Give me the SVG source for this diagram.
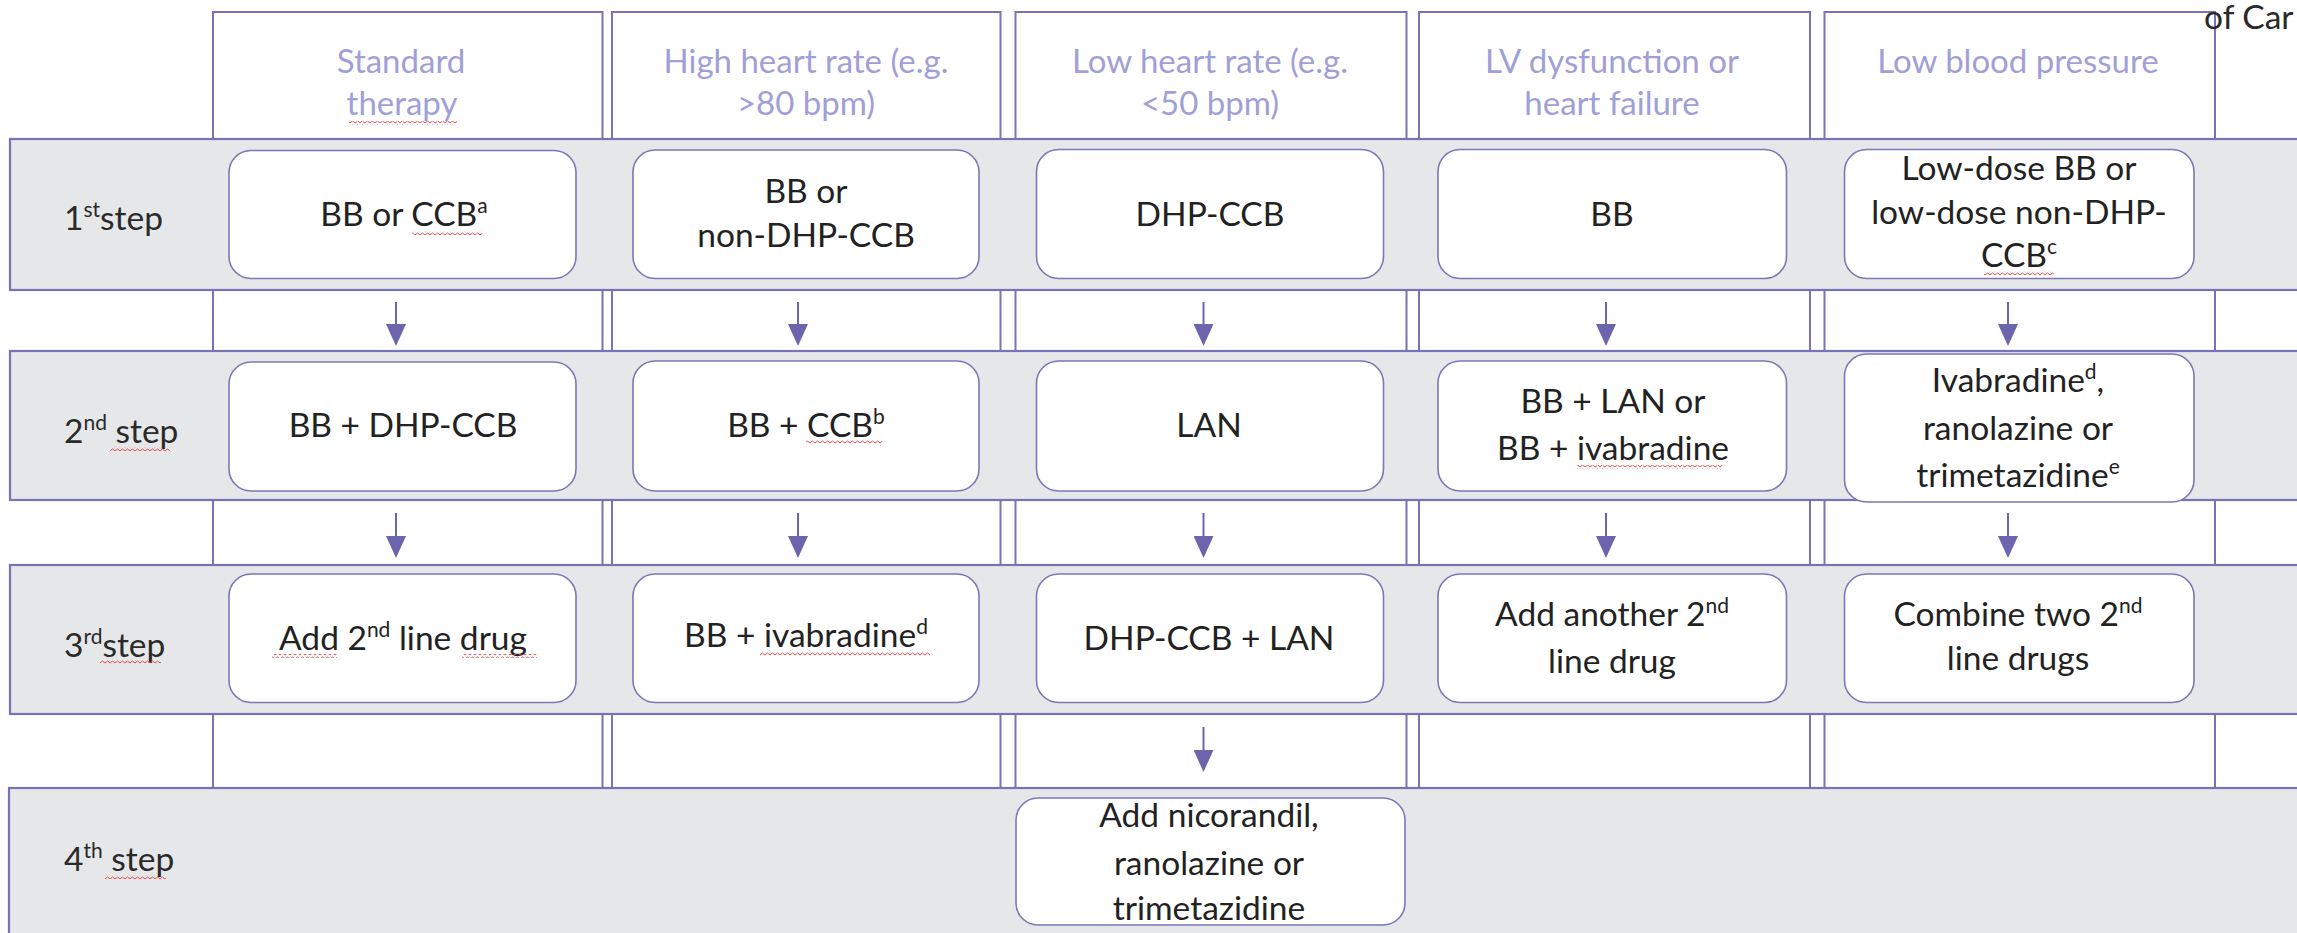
<svg xmlns="http://www.w3.org/2000/svg" width="2297" height="933" viewBox="0 0 2297 933">
<defs>
<style>
.col{fill:#fff;stroke:#7873b6;stroke-width:2}
.band{fill:#e6e7e9;stroke:#7873b6;stroke-width:2.2}
.box{fill:#fff;stroke:#7b77b8;stroke-width:1.6}
.t{font-family:Lato,'Liberation Sans',sans-serif;font-size:33.5px;fill:#222;text-anchor:middle}
.h{font-family:Lato,'Liberation Sans',sans-serif;font-weight:400;font-size:33px;fill:#a19fd8;text-anchor:middle}
.s{font-family:Lato,'Liberation Sans',sans-serif;font-size:33.5px;fill:#2a2a2a;text-anchor:start}
.sup{font-size:21px}
.arr{stroke:#6b65ad;stroke-width:2;fill:none;marker-end:url(#ah)}
.sq{fill:url(#wave)}
</style>
<marker id="ah" viewBox="0 0 22 20" markerUnits="userSpaceOnUse" markerWidth="22" markerHeight="20" refX="14" refY="10" orient="auto">
<path d="M0 0 L22 10 L0 20 z" fill="#6b65ad"/>
</marker>
<pattern id="wave" width="5" height="4" patternUnits="userSpaceOnUse">
<path d="M0 3 L2.5 1 L5 3" fill="none" stroke="#e23b3b" stroke-width="0.9"/>
</pattern>
</defs>

<g id="columns">
<rect class="col" x="213" y="12" width="389.5" height="776"/>
<rect class="col" x="612" y="12" width="388.5" height="776"/>
<rect class="col" x="1015.5" y="12" width="391" height="776"/>
<rect class="col" x="1419" y="12" width="391" height="776"/>
<rect class="col" x="1824.5" y="12" width="390.5" height="776"/>
</g>

<g id="headers">
<g id="h1"><text class="h" x="401" y="73">Standard</text><text class="h" x="402" y="115">therapy</text></g>
<g id="h2"><text class="h" x="806" y="73">High heart rate (e.g.</text><text class="h" x="806" y="115">&gt;80 bpm)</text></g>
<g id="h3"><text class="h" x="1210" y="73">Low heart rate (e.g.</text><text class="h" x="1210" y="115">&lt;50 bpm)</text></g>
<g id="h4"><text class="h" x="1612" y="73">LV dysfunction or</text><text class="h" x="1612" y="115">heart failure</text></g>
<g id="h5"><text class="h" x="2018" y="73">Low blood pressure</text></g>
</g>

<text class="s" x="2204" y="29">of Car</text>

<g id="bands">
<rect class="band" x="10" y="139" width="2300" height="151"/>
<rect class="band" x="10" y="351" width="2300" height="149"/>
<rect class="band" x="10" y="565" width="2300" height="149"/>
<rect class="band" x="9" y="788" width="2300" height="160"/>
</g>

<g id="step-labels">
<text class="s" x="64" y="230">1<tspan class="sup" dy="-13">st</tspan><tspan dy="13">step</tspan></text>
<text class="s" x="64" y="443">2<tspan class="sup" dy="-13">nd</tspan><tspan dy="13"> step</tspan></text>
<text class="s" x="64" y="657">3<tspan class="sup" dy="-13">rd</tspan><tspan dy="13">step</tspan></text>
<text class="s" x="64" y="871">4<tspan class="sup" dy="-13">th</tspan><tspan dy="13"> step</tspan></text>
</g>

<g id="connectors">
<line class="arr" x1="396" y1="302" x2="396" y2="338"/>
<line class="arr" x1="798" y1="302" x2="798" y2="338"/>
<line class="arr" x1="1203.5" y1="302" x2="1203.5" y2="338"/>
<line class="arr" x1="1606" y1="302" x2="1606" y2="338"/>
<line class="arr" x1="2008" y1="302" x2="2008" y2="338"/>
<line class="arr" x1="396" y1="513" x2="396" y2="550"/>
<line class="arr" x1="798" y1="513" x2="798" y2="550"/>
<line class="arr" x1="1203.5" y1="513" x2="1203.5" y2="550"/>
<line class="arr" x1="1606" y1="513" x2="1606" y2="550"/>
<line class="arr" x1="2008" y1="513" x2="2008" y2="550"/>
<line class="arr" x1="1203.5" y1="727" x2="1203.5" y2="764"/>
</g>

<g id="r1c1"><rect class="box" x="229" y="150.5" width="347" height="128" rx="22"/><text class="t" x="404" y="226">BB or CCB<tspan class="sup" dy="-13">a</tspan></text></g>
<g id="r1c2"><rect class="box" x="633" y="150" width="346" height="128.5" rx="22"/><text class="t" x="806" y="203">BB or</text><text class="t" x="806" y="247">non-DHP-CCB</text></g>
<g id="r1c3"><rect class="box" x="1036.5" y="149.5" width="347" height="129" rx="22"/><text class="t" x="1210" y="226">DHP-CCB</text></g>
<g id="r1c4"><rect class="box" x="1438" y="149.5" width="348.5" height="129" rx="22"/><text class="t" x="1612" y="226">BB</text></g>
<g id="r1c5"><rect class="box" x="1844.5" y="149.5" width="349.5" height="129" rx="22"/><text class="t" x="2019" y="180">Low-dose BB or</text><text class="t" x="2019" y="224">low-dose non-DHP-</text><text class="t" x="2019" y="267">CCB<tspan class="sup" dy="-13">c</tspan></text></g>

<g id="r2c1"><rect class="box" x="229" y="362" width="347" height="129" rx="22"/><text class="t" x="403" y="437">BB + DHP-CCB</text></g>
<g id="r2c2"><rect class="box" x="633" y="361" width="346" height="130" rx="22"/><text class="t" x="806" y="437">BB + CCB<tspan class="sup" dy="-13">b</tspan></text></g>
<g id="r2c3"><rect class="box" x="1036.5" y="361" width="347" height="130" rx="22"/><text class="t" x="1209" y="437">LAN</text></g>
<g id="r2c4"><rect class="box" x="1438" y="361" width="348.5" height="130" rx="22"/><text class="t" x="1613" y="413">BB + LAN or</text><text class="t" x="1613" y="460">BB + ivabradine</text></g>
<g id="r2c5"><rect class="box" x="1844.5" y="354" width="349.5" height="148" rx="22"/><text class="t" x="2018" y="392">Ivabradine<tspan class="sup" dy="-13">d</tspan><tspan dy="13">,</tspan></text><text class="t" x="2018" y="440">ranolazine or</text><text class="t" x="2018" y="487">trimetazidine<tspan class="sup" dy="-13">e</tspan></text></g>

<g id="r3c1"><rect class="box" x="229" y="574" width="347" height="128.5" rx="22"/><text class="t" x="403" y="650">Add 2<tspan class="sup" dy="-13">nd</tspan><tspan dy="13"> line drug</tspan></text></g>
<g id="r3c2"><rect class="box" x="633" y="574" width="346" height="128.5" rx="22"/><text class="t" x="806" y="647">BB + ivabradine<tspan class="sup" dy="-13">d</tspan></text></g>
<g id="r3c3"><rect class="box" x="1036.5" y="574" width="347" height="128.5" rx="22"/><text class="t" x="1209" y="650">DHP-CCB + LAN</text></g>
<g id="r3c4"><rect class="box" x="1438" y="574" width="348.5" height="128.5" rx="22"/><text class="t" x="1612" y="626">Add another 2<tspan class="sup" dy="-13">nd</tspan></text><text class="t" x="1612" y="673">line drug</text></g>
<g id="r3c5"><rect class="box" x="1844.5" y="574" width="349.5" height="128.5" rx="22"/><text class="t" x="2018" y="626">Combine two 2<tspan class="sup" dy="-13">nd</tspan></text><text class="t" x="2018" y="670">line drugs</text></g>

<g id="r4c3"><rect class="box" x="1016" y="798" width="389" height="127" rx="22"/><text class="t" x="1209" y="827">Add nicorandil,</text><text class="t" x="1209" y="875">ranolazine or</text><text class="t" x="1209" y="920">trimetazidine</text></g>

<g id="spellcheck">
<rect class="sq" x="349" y="121" width="108" height="4"/>
<rect class="sq" x="412" y="231" width="70" height="4"/>
<rect class="sq" x="1984" y="271" width="70" height="4"/>
<rect class="sq" x="110" y="447" width="60" height="4"/>
<rect class="sq" x="806" y="440" width="76" height="4"/>
<rect class="sq" x="1577" y="465" width="145" height="4"/>
<rect class="sq" x="100" y="660" width="61" height="4"/>
<rect class="sq" x="272" y="654" width="65" height="4"/>
<rect class="sq" x="462" y="654" width="75" height="4"/>
<rect class="sq" x="760" y="652" width="170" height="4"/>
<rect class="sq" x="105" y="875" width="61" height="4"/>
</g>
</svg>
